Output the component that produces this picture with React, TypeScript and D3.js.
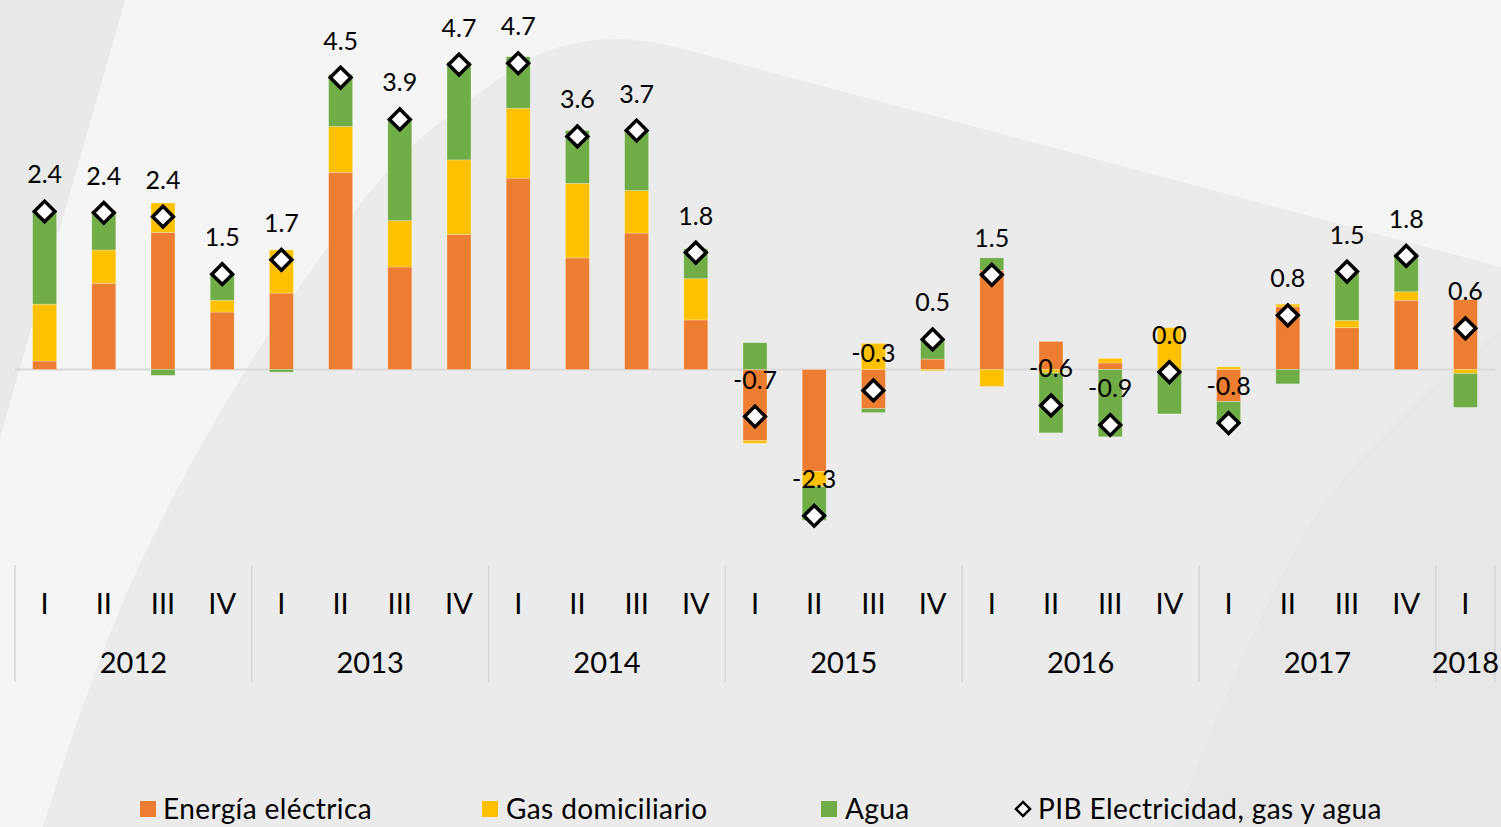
import React from 'react';
import * as d3 from 'd3';

// quarterly contributions (percentage points)
const years = ['2012', '2013', '2014', '2015', '2016', '2017', '2018'];
const quartersPerYear = [4, 4, 4, 4, 4, 4, 1];
const quarterNames = ['I', 'II', 'III', 'IV'];

const energia = [0.13, 1.32, 2.1, 0.88, 1.17, 3.02, 1.57, 2.07, 2.93, 1.71, 2.09, 0.76, -1.09, -1.56, -0.6, 0.16, 1.52, 0.43, 0.1, 0, -0.49, 0.96, 0.64, 1.06, 1.07];
const gas = [0.87, 0.51, 0.45, 0.18, 0.66, 0.7, 0.71, 1.14, 1.07, 1.14, 0.65, 0.63, -0.04, -0.23, 0.4, -0.02, -0.26, -0.05, 0.07, 0.64, 0.04, 0.04, 0.11, 0.13, -0.06];
const agua = [1.42, 0.6, -0.09, 0.39, -0.04, 0.8, 1.57, 1.5, 0.79, 0.81, 0.92, 0.46, 0.41, -0.52, -0.06, 0.28, 0.19, -0.92, -1.03, -0.68, -0.33, -0.22, 0.75, 0.59, -0.52];
const pib = [2.42, 2.4, 2.34, 1.46, 1.68, 4.47, 3.83, 4.67, 4.69, 3.57, 3.66, 1.79, -0.72, -2.24, -0.32, 0.46, 1.45, -0.55, -0.85, -0.04, -0.82, 0.83, 1.5, 1.74, 0.63];
const pibLabels = ['2.4', '2.4', '2.4', '1.5', '1.7', '4.5', '3.9', '4.7', '4.7', '3.6', '3.7', '1.8', '-0.7', '-2.3', '-0.3', '0.5', '1.5', '-0.6', '-0.9', '0.0', '-0.8', '0.8', '1.5', '1.8', '0.6'];

const seriesKeys = ['energia', 'gas', 'agua'];
const seriesNames = ['Energía eléctrica', 'Gas domiciliario', 'Agua'];
const seriesColors = ['#ED7D31', '#FFC000', '#70AD47'];
const pibName = 'PIB Electricidad, gas y agua';

const W = 1501;
const H = 827;
const FONT = 'Lato, "Open Sans", sans-serif';

export default function App() {
  const categories = years.flatMap((yr, i) =>
    quarterNames.slice(0, quartersPerYear[i]).map((q) => ({ year: yr, q, key: `${yr}-${q}` }))
  );
  const rows = categories.map((c, i) => ({ key: c.key, energia: energia[i], gas: gas[i], agua: agua[i] }));
  const stacked = d3.stack<any>().keys(seriesKeys).offset(d3.stackOffsetDiverging)(rows);

  const x = d3.scaleBand()
    .domain(categories.map((c) => c.key))
    .range([15, 1495])
    .paddingInner(0.595)
    .paddingOuter(0.2975);
  const y = d3.scaleLinear().domain([-3, 5]).range([565.4, 43]);
  const cx = (k: string) => (x(k) as number) + x.bandwidth() / 2;

  const diamond = d3.symbol().type(d3.symbolSquare).size(215)();
  const legendDiamond = d3.symbol().type(d3.symbolSquare).size(100)();

  // year groups along the axis
  let start = 0;
  const groups = years.map((yr, i) => {
    const g = { year: yr, from: start, to: start + quartersPerYear[i] };
    start += quartersPerYear[i];
    return g;
  });
  const edge = (idx: number) => x.range()[0] + x.step() * idx;

  // decorative background curve
  const curve = d3.line().curve(d3.curveCatmullRom)([
    [668, 45], [614, 39], [545, 52], [470, 100], [400, 158], [320, 258],
    [247, 368], [185, 475], [133, 579], [85, 700], [43, 827],
  ])!;
  const lightPath = `M125,0L1501,0L1501,267L668,45${curve.slice(curve.indexOf('C'))}L0,827L0,437Z`;
  const brCurve = d3.line().curve(d3.curveCatmullRom)([[1173, 827], [1260, 620], [1327, 500], [1420, 400], [1501, 330]]);

  const legendItems = [
    { sq: 140, tx: 163 },
    { sq: 482, tx: 506 },
    { sq: 821, tx: 845 },
  ];

  return (
    <svg width={W} height={H} style={{ position: 'absolute', left: 0, top: 0, fontFamily: FONT }}>
      <rect width={W} height={H} fill="#ebebeb" />
      <path d={lightPath} fill="#f5f5f5" />
      <path d={`M0,0L125,0L0,437Z`} fill="#e9e9e9" />
      <path d={`${brCurve}L1501,827Z`} fill="#e7e7e7" />

      {/* zero line */}
      <line x1={15} x2={1495} y1={y(0)} y2={y(0)} stroke="#d9d9d9" strokeWidth={2} />

      {/* bars */}
      {stacked.map((s, si) => (
        <g key={s.key} fill={seriesColors[si]}>
          {s.map((d, i) => {
            const y0 = y(d[0]);
            const y1 = y(d[1]);
            const h = Math.abs(y0 - y1);
            if (h < 0.01) return null;
            return (
              <rect
                key={i}
                x={x(categories[i].key)}
                y={Math.min(y0, y1)}
                width={x.bandwidth()}
                height={h}
                stroke="#ffffff"
                strokeOpacity={0.35}
                strokeWidth={0.75}
              />
            );
          })}
        </g>
      ))}

      {/* PIB markers */}
      {categories.map((c, i) => (
        <path
          key={c.key}
          d={diamond!}
          transform={`translate(${cx(c.key)},${y(pib[i])}) rotate(45)`}
          fill="#ffffff"
          stroke="#000000"
          strokeWidth={3.5}
        />
      ))}

      {/* value labels */}
      {categories.map((c, i) => (
        <text key={c.key} x={cx(c.key)} y={y(pib[i]) - 28} textAnchor="middle" fontSize={25} fill="#000">
          {pibLabels[i]}
        </text>
      ))}

      {/* category axis */}
      {groups.map((g) => (
        <line key={g.year} x1={edge(g.from)} x2={edge(g.from)} y1={565} y2={682} stroke="#d6d6d6" strokeWidth={1.5} />
      ))}
      <line x1={edge(categories.length)} x2={edge(categories.length)} y1={565} y2={682} stroke="#d6d6d6" strokeWidth={1.5} />
      {categories.map((c) => (
        <text key={c.key} x={cx(c.key)} y={614} textAnchor="middle" fontSize={29} fill="#000">
          {c.q}
        </text>
      ))}
      {groups.map((g) => (
        <text key={g.year} x={(edge(g.from) + edge(g.to)) / 2} y={673} textAnchor="middle" fontSize={29} fill="#000">
          {g.year}
        </text>
      ))}

      {/* legend */}
      {legendItems.map((l, i) => (
        <g key={seriesNames[i]}>
          <rect x={l.sq} y={801} width={16} height={16} fill={seriesColors[i]} />
          <text x={l.tx} y={819} fontSize={28} letterSpacing={0.4} fill="#000">{seriesNames[i]}</text>
        </g>
      ))}
      <path d={legendDiamond!} transform="translate(1023,809) rotate(45)" fill="#fff" stroke="#000" strokeWidth={2.5} />
      <text x={1038} y={819} fontSize={28} letterSpacing={0.4} fill="#000">{pibName}</text>
    </svg>
  );
}
